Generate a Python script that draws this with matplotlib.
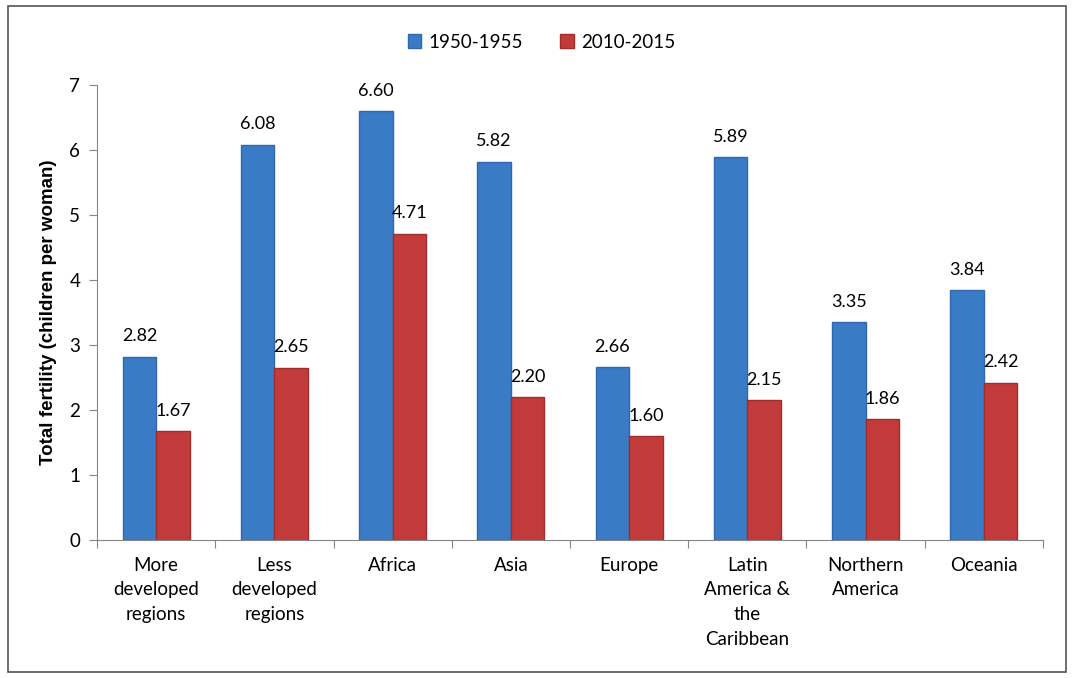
import numpy as np
import matplotlib.pyplot as plt
from matplotlib.patches import Rectangle

plt.rcParams['font.family'] = ['Lato', 'DejaVu Sans']

regions = ['More\ndeveloped\nregions', 'Less\ndeveloped\nregions', 'Africa', 'Asia',
           'Europe', 'Latin\nAmerica &\nthe\nCaribbean', 'Northern\nAmerica', 'Oceania']
tfr_1950 = [2.82, 6.08, 6.60, 5.82, 2.66, 5.89, 3.35, 3.84]
tfr_2010 = [1.67, 2.65, 4.71, 2.20, 1.60, 2.15, 1.86, 2.42]

blue = '#3A7BC6'
red = '#C23B3A'

fig = plt.figure(figsize=(10.83, 6.78), dpi=100)
ax = fig.add_axes([0.0896, 0.2035, 0.8734, 0.6711])

x = np.arange(len(regions))
w = 0.283
b1 = ax.bar(x - w / 2, tfr_1950, w, color=blue, edgecolor='#2F68AC', linewidth=1, label='1950-1955')
b2 = ax.bar(x + w / 2, tfr_2010, w, color=red, edgecolor='#9E2E2E', linewidth=1, label='2010-2015')

for bars, vals in [(b1, tfr_1950), (b2, tfr_2010)]:
    for r, v in zip(bars, vals):
        ax.annotate(f'{v:.2f}', (r.get_x() + r.get_width() / 2, v), xytext=(0, 9),
                    textcoords='offset points', ha='center', va='bottom', fontsize=13)

ax.set_xlim(-0.5, len(regions) - 0.5)
ax.set_ylim(0, 7)
ax.set_yticks(range(8))
ax.set_xticks(np.arange(len(regions) + 1) - 0.5)
ax.set_xticklabels([])
ax.set_xticks(x, minor=True)
ax.set_xticklabels(regions, minor=True, fontsize=13.5, linespacing=1.55, va='top')
ax.tick_params(axis='x', which='minor', length=0, pad=12)
ax.tick_params(axis='x', which='major', length=6, color='#868686', direction='out')
ax.tick_params(axis='y', length=6, color='#868686', labelsize=13.5, pad=6)

for s in ['top', 'right']:
    ax.spines[s].set_visible(False)
for s in ['left', 'bottom']:
    ax.spines[s].set_color('#868686')

ax.set_ylabel('Total fertility (children per woman)', fontsize=13.5, fontweight='bold',
              family='Liberation Sans')
ax.yaxis.set_label_coords(-0.042, 0.5)

fig.legend(loc='center', bbox_to_anchor=(0.5, 0.938), ncol=2, frameon=False, fontsize=13.5,
           handlelength=0.7, handleheight=0.7, handletextpad=0.4, columnspacing=2)

fig.patches.append(Rectangle((8 / 1083, 6 / 678), 1058 / 1083, 666 / 678, transform=fig.transFigure,
                             fill=False, edgecolor='#555555', linewidth=1.2))

fig.savefig('out.png', dpi=100)
